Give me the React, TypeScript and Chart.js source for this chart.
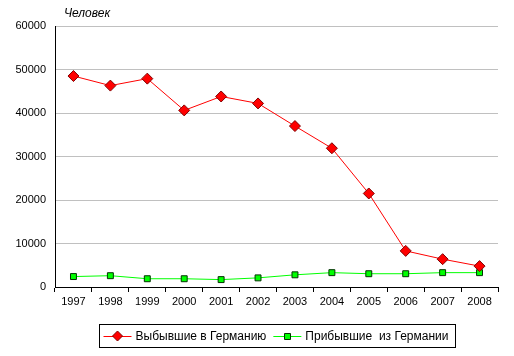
import React, { useEffect, useRef } from "react";
import { Chart, registerables } from "chart.js";

Chart.register(...registerables);

const years = ["1997", "1998", "1999", "2000", "2001", "2002", "2003", "2004", "2005", "2006", "2007", "2008"];
const departed = [48500, 46300, 47900, 40600, 43800, 42200, 37000, 31900, 21500, 8300, 6400, 4800];
const arrived = [2400, 2600, 1900, 1900, 1700, 2100, 2800, 3300, 3050, 3050, 3300, 3300];
const seriesNames = ["Выбывшие в Германию", "Прибывшие  из Германии"];
const unitLabel = "Человек";

const FONT = "'Liberation Sans', Arial, sans-serif";

const overlayPlugin = {
  id: "overlay",
  afterDraw(chart: any) {
    const ctx = chart.ctx as CanvasRenderingContext2D;
    const area = chart.chartArea;
    ctx.save();
    // unit label
    ctx.font = `italic 12px ${FONT}`;
    ctx.fillStyle = "#000";
    ctx.textBaseline = "middle";
    ctx.textAlign = "left";
    ctx.fillText(unitLabel, area.left + 9, 14);

    // legend
    ctx.font = `12px ${FONT}`;
    const w0 = ctx.measureText(seriesNames[0]).width;
    const w1 = ctx.measureText(seriesNames[1]).width;
    const padL = 4, lineLen = 28, gapT = 4, gapItem = 7, padR = 7;
    const boxW = padL + lineLen + gapT + w0 + gapItem + lineLen + gapT + w1 + padR;
    const cx = (area.left + area.right) / 2;
    const bx = Math.round(cx - boxW / 2) + 0.5;
    const by = 324.5;
    const bh = 23;
    ctx.strokeStyle = "#000";
    ctx.lineWidth = 1;
    ctx.strokeRect(bx, by, Math.round(boxW), bh);
    const cy = by + bh / 2;
    const ds = chart.data.datasets;
    let x = bx + padL;
    const items = [w0, w1];
    for (let i = 0; i < 2; i++) {
      const d = ds[i];
      ctx.strokeStyle = d.borderColor;
      ctx.lineWidth = 1;
      ctx.beginPath();
      ctx.moveTo(x, Math.round(cy) + 0.5);
      ctx.lineTo(x + lineLen, Math.round(cy) + 0.5);
      ctx.stroke();
      const mx = x + lineLen / 2;
      ctx.fillStyle = d.pointBackgroundColor;
      ctx.strokeStyle = d.pointBorderColor;
      ctx.beginPath();
      if (i === 0) {
        const r = 5;
        ctx.moveTo(mx, cy - r);
        ctx.lineTo(mx + r, cy);
        ctx.lineTo(mx, cy + r);
        ctx.lineTo(mx - r, cy);
        ctx.closePath();
      } else {
        ctx.rect(Math.round(mx - 3) + 0.5, Math.round(cy - 3) + 0.5, 6, 6);
      }
      ctx.fill();
      ctx.stroke();
      ctx.fillStyle = "#000";
      ctx.textAlign = "left";
      ctx.fillText(seriesNames[i], x + lineLen + gapT, cy + 0.5);
      x += lineLen + gapT + items[i] + gapItem;
    }
    ctx.restore();
  },
};

export default function App() {
  const ref = useRef<HTMLCanvasElement | null>(null);
  useEffect(() => {
    if (!ref.current) return;
    const chart = new Chart(ref.current, {
      type: "line",
      data: {
        labels: years,
        datasets: [
          {
            label: seriesNames[0],
            data: departed,
            borderColor: "#ff0000",
            backgroundColor: "#ff0000",
            borderWidth: 1,
            pointStyle: "rectRot",
            pointRadius: 5.5,
            pointBackgroundColor: "#ff0000",
            pointBorderColor: "#800000",
            pointBorderWidth: 1,
            tension: 0,
          },
          {
            label: seriesNames[1],
            data: arrived,
            borderColor: "#00ff00",
            backgroundColor: "#00ff00",
            borderWidth: 1,
            pointStyle: "rect",
            pointRadius: 4.2,
            pointBackgroundColor: "#00ff00",
            pointBorderColor: "#003300",
            pointBorderWidth: 1,
            tension: 0,
          },
        ],
      },
      options: {
        animation: false,
        responsive: false,
        maintainAspectRatio: false,
        layout: { padding: { left: 0, right: 16, top: 26, bottom: 49 } },
        plugins: {
          legend: { display: false },
          tooltip: { enabled: false },
          title: { display: false },
        },
        scales: {
          x: {
            type: "category",
            offset: true,
            grid: {
              offset: true,
              drawOnChartArea: false,
              drawTicks: true,
              tickLength: 5,
              color: "#000",
            },
            border: { color: "#000", width: 1 },
            ticks: {
              color: "#000",
              font: { family: FONT, size: 11 },
              padding: 3,
              maxRotation: 0,
              autoSkip: false,
            },
            afterFit(scale: any) {
              scale.height = 20;
            },
          },
          y: {
            min: 0,
            max: 60000,
            grid: { color: "#c0c0c0", drawTicks: false, lineWidth: 1 },
            border: { color: "#000", width: 1 },
            ticks: {
              stepSize: 10000,
              color: "#000",
              font: { family: FONT, size: 11 },
              padding: 9,
              callback: (v: any) => String(v),
            },
            afterFit(scale: any) {
              scale.width = 55;
            },
          },
        },
      },
      plugins: [overlayPlugin],
    });
    return () => chart.destroy();
  }, []);
  return (
    <div style={{ position: "fixed", left: 0, top: 0, width: 514, height: 356, background: "#fff" }}>
      <canvas ref={ref} width={514} height={356} style={{ display: "block", width: 514, height: 356 }} />
    </div>
  );
}
